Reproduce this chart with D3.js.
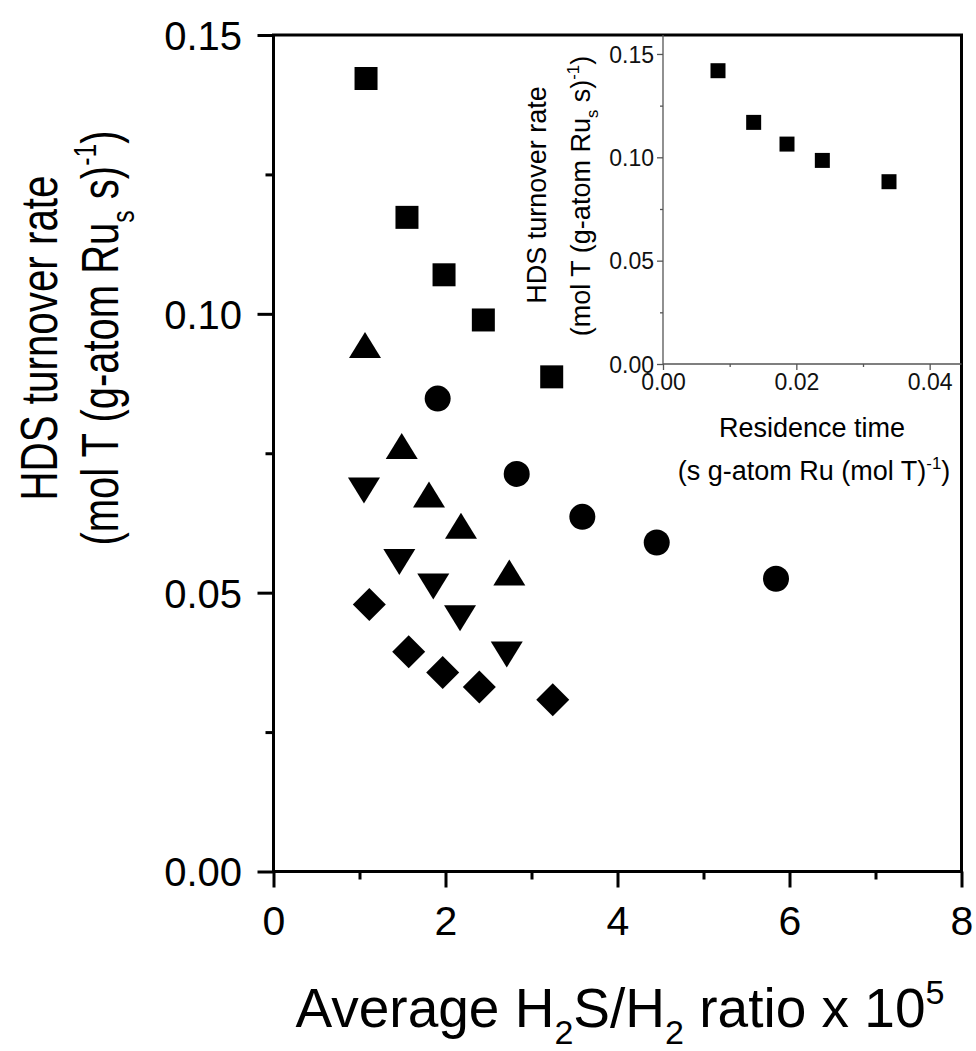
<!DOCTYPE html>
<html><head><meta charset="utf-8">
<script src="https://cdn.jsdelivr.net/npm/d3@7"></script>
<style>
html,body{margin:0;padding:0;background:#fff;}
svg{display:block;}
text{font-family:"Liberation Sans",Arial,sans-serif;}
</style></head>
<body>
<svg id="chart" width="976" height="1051"></svg>
<script>
// ---- Main panel data ----
const squareX   = [1.076, 1.552, 1.983, 2.440, 3.235];
const squareY   = [0.1422, 0.1173, 0.1070, 0.0989, 0.0887];
const triUpX    = [1.064, 1.491, 1.808, 2.180, 2.742];
const triUpY    = [0.0944, 0.0763, 0.0676, 0.0620, 0.0536];
const circleX   = [1.909, 2.828, 3.591, 4.456, 5.843];
const circleY   = [0.0848, 0.0713, 0.0636, 0.0590, 0.0525];
const triDownX  = [1.052, 1.463, 1.858, 2.169, 2.712];
const triDownY  = [0.0683, 0.0555, 0.0511, 0.0454, 0.0389];
const diamondX  = [1.114, 1.572, 1.967, 2.393, 3.247];
const diamondY  = [0.0479, 0.0394, 0.0357, 0.0331, 0.0308];
const xMajorTicks = [0, 2, 4, 6, 8];
const xMinorTicks = [1, 3, 5, 7];
const yMajorTicks = [0, 0.05, 0.10, 0.15];
const yMinorTicks = [0.025, 0.075, 0.125];
// ---- Inset data ----
const insetX = [0.00825, 0.0136, 0.0186, 0.0239, 0.0339];
const insetY = [0.1419, 0.1169, 0.1064, 0.0985, 0.0882];
const insetXMajor = [0, 0.02, 0.04];
const insetXMinor = [0.01, 0.03];
const insetYMajor = [0, 0.05, 0.10, 0.15];
const insetYMinor = [0.025, 0.075, 0.125];

const svg = d3.select("#chart");
svg.append("rect").attr("width",976).attr("height",1051).attr("fill","#fff");

// Main scales
const x = d3.scaleLinear().domain([0, 8]).range([273.5, 961.5]);
const y = d3.scaleLinear().domain([0, 0.15]).range([871.5, 35]);

function styleAxis(g, w){
  g.select(".domain").remove();
  g.selectAll(".tick line").attr("stroke","#000").attr("stroke-width",w);
}

// Main axes
const gxMaj = svg.append("g").attr("transform",`translate(0,${y(0)})`)
  .call(d3.axisBottom(x).tickValues(xMajorTicks).tickSize(16).tickFormat(d3.format("d")));
styleAxis(gxMaj, 3);
gxMaj.selectAll(".tick text").attr("y", 63.5).attr("dy", null).attr("font-size", 41)
  .attr("fill","#000").attr("font-family",'"Liberation Sans",Arial,sans-serif');
const gxMin = svg.append("g").attr("transform",`translate(0,${y(0)})`)
  .call(d3.axisBottom(x).tickValues(xMinorTicks).tickSize(8).tickFormat(""));
styleAxis(gxMin, 3);

const gyMaj = svg.append("g").attr("transform",`translate(${x(0)},0)`)
  .call(d3.axisLeft(y).tickValues(yMajorTicks).tickSize(16).tickFormat(d3.format(".2f")));
styleAxis(gyMaj, 3);
gyMaj.selectAll(".tick text").attr("x", -31.5).attr("dy","0.36em").attr("font-size", 40)
  .attr("fill","#000").attr("font-family",'"Liberation Sans",Arial,sans-serif');
const gyMin = svg.append("g").attr("transform",`translate(${x(0)},0)`)
  .call(d3.axisLeft(y).tickValues(yMinorTicks).tickSize(8).tickFormat(""));
styleAxis(gyMin, 3);

// Frame
svg.append("rect")
  .attr("x", x(0)).attr("y", y(0.15))
  .attr("width", x(8)-x(0)).attr("height", y(0)-y(0.15))
  .attr("fill","none").attr("stroke","#000").attr("stroke-width",3);

// Rich text helper
function rich(g, parts, size){
  const t = g.append("text").attr("font-size", size).attr("fill","#000");
  let shift = 0;
  parts.forEach(p => {
    let target = 0, fs = size;
    if (p.sub) { target = 0.30*size; fs = 0.62*size; }
    if (p.sup) { target = -0.42*size; fs = 0.62*size; }
    t.append("tspan").attr("dy", target - shift).attr("font-size", fs).text(p.t);
    shift = target;
  });
  return t;
}

// X title
rich(svg.append("g").attr("transform","translate(620,1027)"),
  [{t:"Average H"},{t:"2",sub:true},{t:"S/H"},{t:"2",sub:true},{t:" ratio x 10"},{t:"5",sup:true}], 55)
  .attr("text-anchor","middle");

// Y title (two lines, rotated)
rich(svg.append("g").attr("transform","translate(57,338) rotate(-90)"),
  [{t:"HDS turnover rate"}], 52).attr("text-anchor","middle")
  .attr("textLength",325).attr("lengthAdjust","spacingAndGlyphs");
rich(svg.append("g").attr("transform","translate(118,338) rotate(-90)"),
  [{t:"(mol T (g-atom Ru"},{t:"s",sub:true},{t:" s)"},{t:"-1",sup:true},{t:")"}], 52)
  .attr("text-anchor","middle")
  .attr("textLength",415).attr("lengthAdjust","spacingAndGlyphs");

// Markers
const mk = svg.append("g").attr("fill","#000");
function plot(xs, ys, pathD){
  mk.append("g").selectAll("path").data(xs.map((v,i)=>[v, ys[i]])).join("path")
    .attr("transform", d => `translate(${x(d[0])},${y(d[1])})`)
    .attr("d", pathD);
}
plot(squareX, squareY, d3.symbol(d3.symbolSquare, 23*23)());
plot(triUpX, triUpY, "M0,-13L16,13L-16,13Z");
plot(circleX, circleY, d3.symbol(d3.symbolCircle, Math.PI*13*13)());
plot(triDownX, triDownY, "M0,13L16,-13L-16,-13Z");
plot(diamondX, diamondY, "M0,-16.5L16.5,0L0,16.5L-16.5,0Z");

// ---- Inset ----
const xi = d3.scaleLinear().domain([0, 0.045]).range([663, 963]);
const yi = d3.scaleLinear().domain([0, 0.16]).range([364, 33.3]);
const inset = svg.append("g");
const axCol = "#555";
function styleInset(g){
  g.select(".domain").remove();
  g.selectAll(".tick line").attr("stroke",axCol).attr("stroke-width",1.3);
}
const ixMaj = inset.append("g").attr("transform",`translate(0,${yi(0)})`)
  .call(d3.axisBottom(xi).tickValues(insetXMajor).tickSize(6).tickFormat(d3.format(".2f")));
styleInset(ixMaj);
ixMaj.selectAll(".tick text").attr("y", 10).attr("dy","0.71em").attr("font-size",23)
  .attr("fill","#111").attr("font-family",'"Liberation Sans",Arial,sans-serif');
const ixMin = inset.append("g").attr("transform",`translate(0,${yi(0)})`)
  .call(d3.axisBottom(xi).tickValues(insetXMinor).tickSize(3).tickFormat(""));
styleInset(ixMin);
const iyMaj = inset.append("g").attr("transform",`translate(${xi(0)},0)`)
  .call(d3.axisLeft(yi).tickValues(insetYMajor).tickSize(6).tickFormat(d3.format(".2f")));
styleInset(iyMaj);
iyMaj.selectAll(".tick text").attr("x", -9).attr("dy","0.36em").attr("font-size",23)
  .attr("fill","#111").attr("font-family",'"Liberation Sans",Arial,sans-serif');
const iyMin = inset.append("g").attr("transform",`translate(${xi(0)},0)`)
  .call(d3.axisLeft(yi).tickValues(insetYMinor).tickSize(3).tickFormat(""));
styleInset(iyMin);
// inset axis lines
inset.append("line").attr("x1",xi(0)).attr("x2",xi(0)).attr("y1",yi(0)).attr("y2",y(0.15))
  .attr("stroke",axCol).attr("stroke-width",1.3);
inset.append("line").attr("x1",xi(0)).attr("x2",x(8)).attr("y1",yi(0)).attr("y2",yi(0))
  .attr("stroke",axCol).attr("stroke-width",1.3);
// inset points
inset.append("g").selectAll("path").data(insetX.map((v,i)=>[v, insetY[i]])).join("path")
  .attr("transform", d => `translate(${xi(d[0])},${yi(d[1])})`)
  .attr("d", d3.symbol(d3.symbolSquare, 15*15)()).attr("fill","#000");
// inset titles
rich(inset.append("g").attr("transform","translate(812,437)"),
  [{t:"Residence time"}], 27).attr("text-anchor","middle");
rich(inset.append("g").attr("transform","translate(814,480)"),
  [{t:"(s g-atom Ru (mol T)"},{t:"-1",sup:true},{t:")"}], 27).attr("text-anchor","middle");
rich(inset.append("g").attr("transform","translate(546,195) rotate(-90)"),
  [{t:"HDS turnover rate"}], 27).attr("text-anchor","middle");
rich(inset.append("g").attr("transform","translate(590,196) rotate(-90)"),
  [{t:"(mol T (g-atom Ru"},{t:"s",sub:true},{t:" s)"},{t:"-1",sup:true},{t:")"}], 27)
  .attr("text-anchor","middle");
</script>
</body></html>
